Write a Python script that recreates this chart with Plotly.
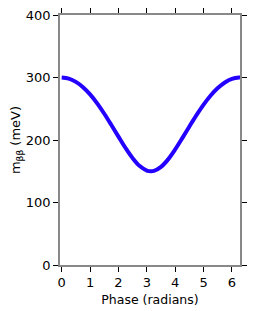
import plotly.graph_objects as go

phase = [0, 0.25, 0.5, 0.75, 1.0, 1.25, 1.5, 1.75, 2.0, 2.25, 2.5, 2.75, 3.0, 3.1416,
         3.25, 3.5, 3.75, 4.0, 4.25, 4.5, 4.75, 5.0, 5.25, 5.5, 5.75, 6.0, 6.25, 6.2832]
m_bb = [300, 298.2, 293, 284.5, 273, 258.6, 242, 224, 205.4, 187.2, 171, 158.3, 151.1, 150,
        150.6, 157, 169, 185, 203, 221.7, 239.8, 256.6, 271.2, 283.1, 292.1, 297.8, 300, 300]

x_ticks = [0, 1, 2, 3, 4, 5, 6]
y_ticks = [0, 100, 200, 300, 400]

font_family = "DejaVu Sans, Verdana, sans-serif"

fig = go.Figure()
fig.add_trace(go.Scatter(x=phase, y=m_bb, mode="lines", line_shape="spline",
                         line=dict(color="rgb(35,0,255)", width=4), showlegend=False))

# page body adds an 8px offset; margins compensate for it
fig.update_layout(
    width=276, height=311,
    margin=dict(l=52, r=44, t=7, b=54),
    paper_bgcolor="white", plot_bgcolor="white",
    font=dict(family=font_family, size=13, color="black"),
)
fig.update_xaxes(
    range=[-0.06, 6.2832], tickvals=x_ticks, ticks="outside", ticklen=5, tickcolor="black",
    showline=True, linecolor="#888888", linewidth=1.5, mirror="ticks", showgrid=False, zeroline=False,
    title=dict(text="Phase (radians)", standoff=6, font=dict(size=12.5)),
    tickfont=dict(size=13), automargin=False, ticklabeloverflow="allow",
)
fig.update_yaxes(
    range=[0, 400], tickvals=y_ticks, ticks="outside", ticklen=5, tickcolor="black",
    showline=True, linecolor="#888888", linewidth=1.5, mirror="ticks", showgrid=False, zeroline=False,
    title=dict(text="m<sub>ββ</sub> (meV)", standoff=8, font=dict(size=13)),
    tickfont=dict(size=13), automargin=False, ticklabeloverflow="allow",
)

fig.write_html("out.html")
